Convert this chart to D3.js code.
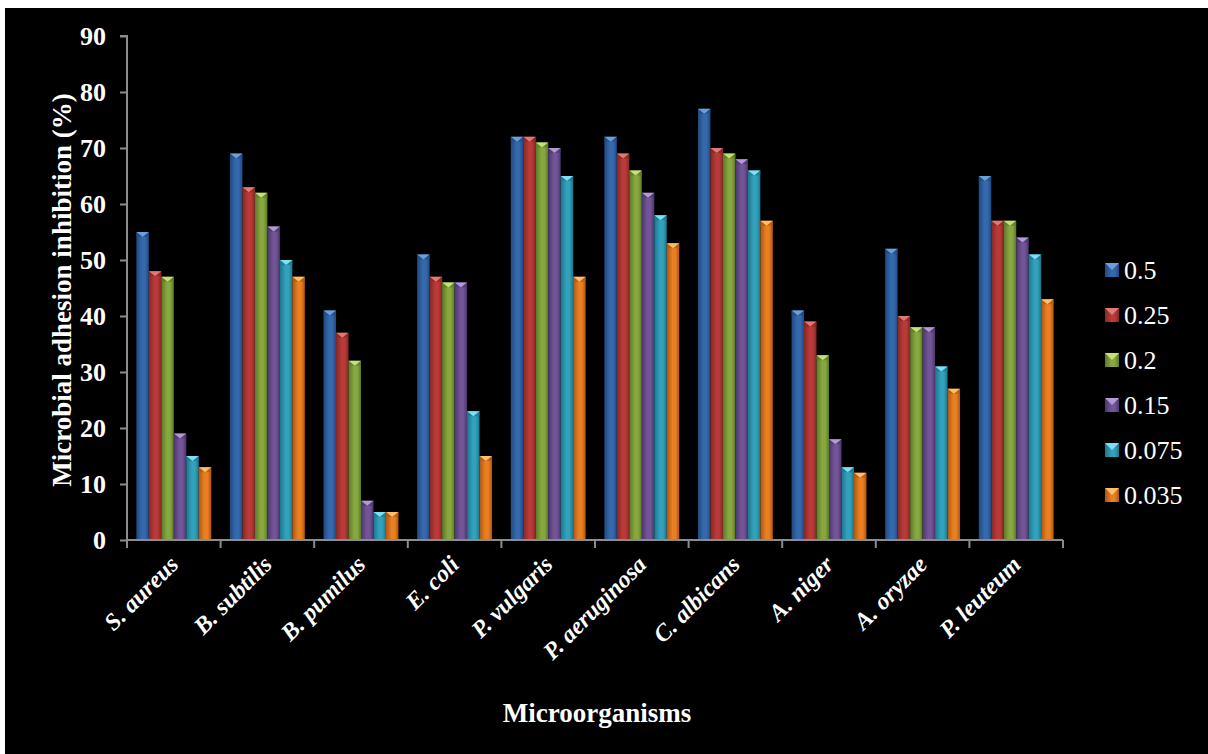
<!DOCTYPE html>
<html><head><meta charset="utf-8">
<script src="https://cdn.jsdelivr.net/npm/d3@7"></script>
<style>html,body{margin:0;padding:0;background:#fff;}svg{display:block;}</style>
</head><body><svg id="c" width="1208" height="754"></svg>
<script>
const categories = ["S. aureus","B. subtilis","B. pumilus","E. coli","P. vulgaris","P. aeruginosa","C. albicans","A. niger","A. oryzae","P. leuteum"];
const seriesNames = ["0.5","0.25","0.2","0.15","0.075","0.035"];
const s05   = [55,69,41,51,72,72,77,41,52,65];
const s025  = [48,63,37,47,72,69,70,39,40,57];
const s02   = [47,62,32,46,71,66,69,33,38,57];
const s015  = [19,56,7,46,70,62,68,18,38,54];
const s0075 = [15,50,5,23,65,58,66,13,31,51];
const s0035 = [13,47,5,15,47,53,57,12,27,43];
const seriesValues = [s05,s025,s02,s015,s0075,s0035];
const yTicks = [0,10,20,30,40,50,60,70,80,90];
const colors = [
  {dark:"#204a80", mid:"#3569ad", light:"#6f9fd8"},
  {dark:"#842826", mid:"#b93a37", light:"#e07a76"},
  {dark:"#5b7828", mid:"#88a83f", light:"#c6e07a"},
  {dark:"#4b376c", mid:"#735497", light:"#b39ad6"},
  {dark:"#1d768c", mid:"#31a1bc", light:"#7fe0f5"},
  {dark:"#ad5611", mid:"#ea7f22", light:"#ffbe6a"}
];
const FONT = "'Liberation Serif','Times New Roman',serif";

const svg = d3.select("#c");
svg.append("rect").attr("x",5).attr("y",8).attr("width",1203).attr("height",746).attr("fill","#000");

const x0 = 127, x1 = 1063, yTop = 36, yBot = 540;
const x = d3.scaleBand().domain(categories).range([x0,x1]).paddingInner(0.2).paddingOuter(0.1);
const xOuter = d3.scaleBand().domain(categories).range([x0,x1]).padding(0);
const xs = d3.scaleBand().domain(seriesNames).range([0,x.bandwidth()]).padding(0);
const y = d3.scaleLinear().domain([0,90]).range([yBot,yTop]);

const defs = svg.append("defs");
colors.forEach((c,i)=>{
  const g = defs.append("linearGradient").attr("id","g"+i).attr("x1","0").attr("x2","1").attr("y1","0").attr("y2","0");
  g.append("stop").attr("offset","0").attr("stop-color",c.dark);
  g.append("stop").attr("offset","0.45").attr("stop-color",c.mid);
  g.append("stop").attr("offset","0.7").attr("stop-color",c.mid);
  g.append("stop").attr("offset","1").attr("stop-color",c.dark);
});

// bars
seriesNames.forEach((s,si)=>{
  const gS = svg.append("g");
  categories.forEach((cat,ci)=>{
    const v = seriesValues[si][ci];
    const bx = x(cat)+xs(s), bw = xs.bandwidth(), by = y(v);
    gS.append("rect").attr("x",bx).attr("y",by).attr("width",bw).attr("height",yBot-by).attr("fill","url(#g"+si+")");
    const bev = Math.min(5, bw/2);
    gS.append("path")
      .attr("d",`M${bx},${by} L${bx+bw},${by} L${bx+bw/2},${by+bev} Z`)
      .attr("fill",colors[si].light);
    gS.append("path")
      .attr("d",`M${bx},${by} L${bx+bw/2},${by+bev} L${bx},${by+bev} Z`)
      .attr("fill",colors[si].dark).attr("opacity",0.6);
    gS.append("path")
      .attr("d",`M${bx+bw},${by} L${bx+bw/2},${by+bev} L${bx+bw},${by+bev} Z`)
      .attr("fill",colors[si].dark).attr("opacity",0.6);
  });
});

// y axis
const yAxis = d3.axisLeft(y).tickValues(yTicks).tickSize(7).tickPadding(14);
const gy = svg.append("g").attr("transform",`translate(${x0},0)`).call(yAxis);
gy.select(".domain").attr("stroke","#8c8c8c").attr("stroke-width",2).attr("d",`M-7,${yTop}H0V${yBot}`);
gy.selectAll(".tick line").attr("stroke","#8c8c8c").attr("stroke-width",2);
gy.selectAll(".tick text").attr("fill","#fff").style("font-family",FONT)
  .style("font-weight","bold").style("font-size","26px");

// x axis
const gx = svg.append("g").attr("transform",`translate(0,${yBot})`);
gx.append("line").attr("x1",x0).attr("x2",x1).attr("y1",0).attr("y2",0).attr("stroke","#8c8c8c").attr("stroke-width",2);
const bounds = categories.map(c=>xOuter(c)).concat([x1]);
gx.selectAll("line.tk").data(bounds).enter().append("line").attr("class","tk")
  .attr("x1",d=>d).attr("x2",d=>d).attr("y1",0).attr("y2",8).attr("stroke","#8c8c8c").attr("stroke-width",2);
gx.selectAll("text.lbl").data(categories).enter().append("text").attr("class","lbl")
  .attr("transform",d=>`translate(${xOuter(d)+xOuter.bandwidth()/2},${20}) rotate(-45)`)
  .attr("text-anchor","end").attr("dy","0.35em")
  .attr("fill","#fff").style("font-family",FONT)
  .style("font-weight","bold").style("font-style","italic").style("font-size","24px")
  .text(d=>d);

// titles
svg.append("text").attr("transform","translate(71,290) rotate(-90)").attr("text-anchor","middle")
  .attr("fill","#fff").style("font-family",FONT)
  .style("font-weight","bold").style("font-size","27px").text("Microbial adhesion inhibition (%)");
svg.append("text").attr("x",597).attr("y",722).attr("text-anchor","middle")
  .attr("fill","#fff").style("font-family",FONT)
  .style("font-weight","bold").style("font-size","27px").text("Microorganisms");

// legend
const lg = svg.append("g");
seriesNames.forEach((s,i)=>{
  const ly = 270 + i*45;
  lg.append("rect").attr("x",1105).attr("y",ly-7).attr("width",14).attr("height",14).attr("fill","url(#g"+i+")");
  lg.append("path").attr("d",`M1105,${ly-7} L1119,${ly-7} L1112,${ly} Z`).attr("fill",colors[i].light);
  lg.append("text").attr("x",1124).attr("y",ly).attr("dy","0.35em").attr("fill","#fff")
    .style("font-family",FONT).style("font-size","26px").text(s);
});
</script></body></html>
